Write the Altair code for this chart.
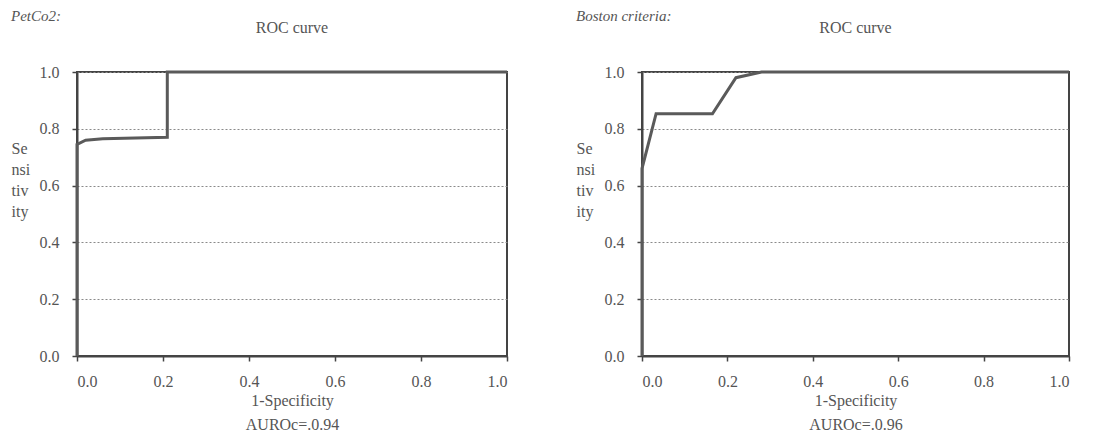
import altair as alt
import pandas as pd

# PetCo2 ROC curve points (1-Specificity, Sensitivity)
petco2_fpr = [0.0, 0.0, 0.02, 0.06, 0.21, 0.21, 1.0]
petco2_tpr = [0.0, 0.745, 0.76, 0.765, 0.77, 1.0, 1.0]

# Boston criteria ROC curve points
boston_fpr = [0.0, 0.0, 0.033, 0.165, 0.22, 0.28, 1.0]
boston_tpr = [0.0, 0.66, 0.853, 0.853, 0.98, 1.0, 1.0]

tick_values = [0.0, 0.2, 0.4, 0.6, 0.8, 1.0]
panel_names = ["PetCo2:", "Boston criteria:"]
auc_labels = ["AUROc=.0.94", "AUROc=.0.96"]
chart_title = "ROC curve"
x_title = "1-Specificity"
y_title_lines = ["Se", "nsi", "tiv", "ity"]

FONT = "Liberation Serif"
TXT = "#555555"


def panel(fpr, tpr, name, auc, width):
    df = pd.DataFrame({"fpr": fpr, "tpr": tpr, "i": list(range(len(fpr)))})
    line = alt.Chart(df).mark_line(color="#5a5a5a", strokeWidth=3).encode(
        x=alt.X(
            "fpr:Q",
            scale=alt.Scale(domain=[0, 1], nice=False, zero=True),
            axis=alt.Axis(
                values=tick_values, format=".1f", grid=False,
                title=[x_title, auc], titleLineHeight=24, titlePadding=3,
                titleFontSize=16, titleFont=FONT, titleColor=TXT, titleFontWeight="normal",
                labelPadding=12, tickSize=5, labelFontSize=16,
            ),
        ),
        y=alt.Y(
            "tpr:Q",
            scale=alt.Scale(domain=[0, 1], nice=False),
            axis=alt.Axis(
                values=tick_values, format=".1f", grid=True,
                gridDash=[2, 2], gridColor="#8a8a8a", gridWidth=1,
                title=y_title_lines, titleAngle=0, titleAlign="left",
                titleBaseline="top", titleX=-66, titleY=68, titleLineHeight=21,
                titleFontSize=16, titleFont=FONT, titleColor=TXT, titleFontWeight="normal",
                labelPadding=13, tickSize=5, labelFontSize=16,
            ),
        ),
        order="i:Q",
    )
    lab = alt.Chart(pd.DataFrame({"t": [name]})).mark_text(
        align="left", baseline="middle", fontStyle="italic", font=FONT,
        fontSize=15, color=TXT,
    ).encode(x=alt.value(-66), y=alt.value(-56), text="t:N")
    ttl = alt.Chart(pd.DataFrame({"t": [chart_title]})).mark_text(
        align="center", baseline="middle", font=FONT,
        fontSize=16, color=TXT,
    ).encode(x=alt.value(width / 2), y=alt.value(-44), text="t:N")
    return alt.layer(line, lab, ttl).properties(width=width, height=284)


chart = alt.hconcat(
    panel(petco2_fpr, petco2_tpr, panel_names[0], auc_labels[0], 430),
    panel(boston_fpr, boston_tpr, panel_names[1], auc_labels[1], 427),
    spacing=135,
    bounds="flush",
).configure(
    padding={"left": 2, "top": 0, "right": 2, "bottom": 2},
    background="white",
).configure_view(
    stroke="#444444", strokeWidth=2,
).configure_axis(
    labelFont=FONT, labelColor=TXT, domainColor="#444444", domainWidth=2,
    tickColor="#444444", tickWidth=1.5,
)

chart.save("out.html", embed_options={"renderer": "svg", "actions": False})
